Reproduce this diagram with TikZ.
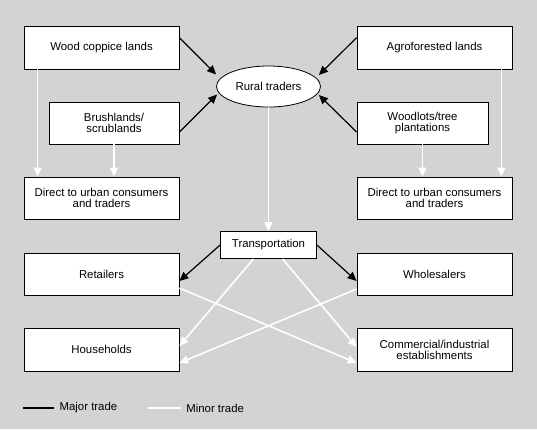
\documentclass[tikz,border=0pt]{standalone}
\usepackage{fontspec}
\setmainfont{Liberation Sans}
\usetikzlibrary{arrows.meta,calc,shapes.geometric}
\definecolor{bggray}{RGB}{211,211,211}

\begin{document}
\begin{tikzpicture}[x=1pt,y=-1pt,>={Triangle[length=9pt,width=8pt]},
  box/.style={draw,line width=0.8pt,fill=white,align=center,inner sep=0pt,
    font=\fontsize{11.4}{11}\selectfont},
  major/.style={->,black,line width=1.2pt},
  minor/.style={->,white,line width=1.6pt},
  legtext/.style={right,inner sep=0pt,xshift=5pt,text=black,font=\fontsize{11.4}{11}\selectfont}]
  \fill[bggray] (0,0) rectangle (537,429);
  \useasboundingbox (0,0) rectangle (537,429);
  % sources
  \node[box,minimum width=155,minimum height=43] (wood) at (101.5,47.5) {Wood coppice lands};
  \node[box,minimum width=130,minimum height=42] (brush) at (114,123) {Brushlands/\\scrublands};
  \node[box,minimum width=155,minimum height=42] (directL) at (101.5,198) {Direct to urban consumers\\and traders};
  \node[box,minimum width=155,minimum height=43] (agro) at (434.5,47.5) {Agroforested lands};
  \node[box,minimum width=131,minimum height=42] (woodlots) at (422.5,123) {Woodlots/tree\\plantations};
  \node[box,minimum width=155,minimum height=42] (directR) at (434.5,198) {Direct to urban consumers\\and traders};
  \node[box,ellipse,minimum width=104,minimum height=41] (rural) at (268.5,86.5) {Rural traders};
  % trade chain
  \node[box,minimum width=96,minimum height=27] (transp) at (268.5,245) {Transportation};
  \node[box,minimum width=155,minimum height=42] (retail) at (101.5,274) {Retailers};
  \node[box,minimum width=155,minimum height=42] (whole) at (434.5,274) {Wholesalers};
  \node[box,minimum width=155,minimum height=43] (house) at (101.5,349.5) {Households};
  \node[box,minimum width=155,minimum height=43] (comm) at (434.5,349.5) {Commercial/industrial\\establishments};

  \draw[major] ($(wood.north east)+(0,12)$) -- ($(rural.west)+(0,-12)$);
  \draw[major] ($(brush.east)+(0,9)$) -- ($(rural.west)+(1,8)$);
  \draw[major] ($(agro.north west)+(0,12)$) -- ($(rural.east)+(-2,-11.5)$);
  \draw[major] ($(woodlots.west)+(0,9)$) -- ($(rural.east)+(-2,8.5)$);
  \draw[minor] ($(wood.south west)+(14,0)$) -- ($(directL.north west)+(14,0)$);
  \draw[minor] (brush.south) -- (brush.south |- directL.north);
  \draw[minor] (woodlots.south) -- (woodlots.south |- directR.north);
  \draw[minor] ($(agro.south east)+(-11,0)$) -- ($(directR.north east)+(-11,0)$);
  \draw[minor] (rural.south) -- (transp.north);
  \draw[major] (transp.west) -- ($(retail.east)+(0,7)$);
  \draw[major] (transp.east) -- ($(whole.west)+(0,7)$);
  \draw[minor] ($(transp.south)+(-15,0)$) -- ($(house.east)+(0,-3.5)$);
  \draw[minor] ($(transp.south)+(14,0)$) -- ($(comm.west)+(0,-2.5)$);
  \draw[minor] ($(retail.east)+(0,14)$) -- ($(comm.west)+(0,13.5)$);
  \draw[minor] ($(whole.west)+(0,15)$) -- ($(house.east)+(0,13.5)$);

  % legend
  \draw[black,line width=1.2pt] (23,408) -- (54,408) node[legtext] (majorlbl) {Major trade};
  \draw[white,line width=1.6pt] (148,408) -- (180.5,408) node[legtext] (minorlbl) {Minor trade};
\end{tikzpicture}
\end{document}
